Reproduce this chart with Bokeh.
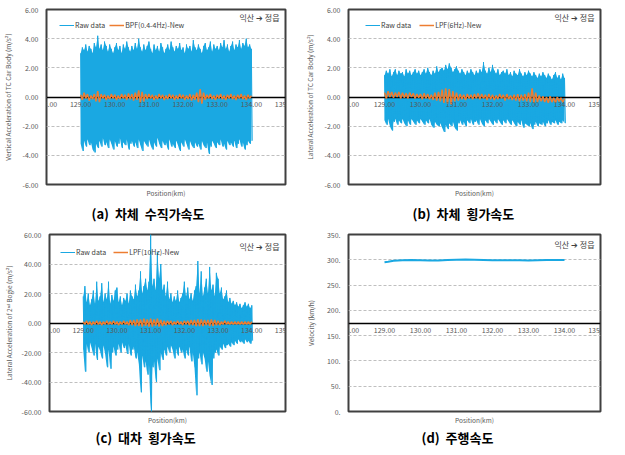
import numpy as np
from bokeh.plotting import figure
from bokeh.layouts import row, column
from bokeh.models import (Range1d, FixedTicker, NumeralTickFormatter, PrintfTickFormatter,
                          Legend, LegendItem, Title)
from bokeh.core.properties import value
from bokeh.embed import file_html
from bokeh.resources import INLINE

FONT = "Noto Sans CJK KR"
BLUE = "#1aa8e2"
ORANGE = "#ed7d31"
NB = "\u00a0"

# ---------------- data ----------------
x_ticks = [128, 129, 130, 131, 132, 133, 134, 135]
positions = np.round(np.arange(129.0, 134.0001, 0.05), 2)   # km, sample positions
half_step = 0.025

direction_tag = "익산 ➔ 정읍"
x_title = "Position(km)"

# (a) vertical acceleration of car body (m/s2): raw peaks, filtered signal
a_raw_upper = [
    3.0, 3.4, 3.2, 3.6, 3.1, 3.5, 3.3, 3.0, 3.7, 3.4,
    4.2, 3.3, 3.6, 3.2, 3.8, 3.5, 3.1, 3.6, 3.3, 3.0,
    3.4, 3.7, 3.2, 3.5, 3.0, 3.6, 3.3, 3.8, 3.4, 3.1,
    3.5, 3.2, 3.7, 3.3, 4.0, 3.4, 3.1, 3.6, 3.2, 3.5,
    3.8, 3.3, 3.0, 3.6, 3.2, 3.5, 3.1, 3.7, 3.4, 3.0,
    3.3, 3.6, 3.2, 3.8, 3.4, 3.1, 3.5, 3.3, 3.7, 3.2,
    3.4, 3.0, 3.6, 3.3, 3.5, 3.1, 3.9, 3.4, 3.2, 3.6,
    3.3, 3.0, 3.5, 3.7, 3.2, 3.4, 3.8, 3.1, 3.6, 3.3,
    3.5, 3.2, 3.7, 3.4, 3.9, 3.3, 3.6, 3.1, 3.5, 3.8,
    3.2, 3.6, 3.4, 3.9, 3.3, 3.7, 3.5, 4.0, 3.4, 3.6,
    3.3]
a_raw_lower = [
    -3.2, -3.7, -3.0, -3.4, -2.9, -3.3, -3.1, -3.6, -3.8, -3.2,
    -3.5, -3.0, -3.4, -2.8, -3.3, -3.1, -3.5, -2.9, -3.2, -3.6,
    -3.0, -3.4, -3.2, -2.8, -3.5, -3.1, -3.3, -2.9, -3.6, -3.2,
    -3.0, -3.4, -3.1, -3.5, -2.9, -3.3, -3.7, -3.0, -3.2, -3.4,
    -2.9, -3.3, -3.6, -3.1, -3.4, -2.8, -3.2, -3.5, -3.0, -3.3,
    -3.1, -3.6, -2.9, -3.4, -3.2, -3.5, -3.0, -3.3, -3.7, -3.1,
    -3.4, -2.9, -3.2, -3.6, -3.0, -3.3, -3.5, -3.1, -3.4, -3.2,
    -3.6, -3.0, -3.3, -3.5, -3.1, -3.9, -3.4, -3.0, -3.2, -3.5,
    -3.1, -3.3, -2.9, -3.4, -3.2, -3.6, -3.0, -3.3, -3.1, -3.4,
    -3.0, -3.5, -3.2, -2.9, -3.4, -3.1, -3.6, -3.3, -3.0, -3.2,
    -3.0]
a_filtered = [
    0.15, -0.2, 0.3, -0.1, 0.2, -0.25, 0.1, -0.15, 0.2, -0.3,
    0.4, -0.35, 0.2, -0.1, 0.15, -0.2, 0.1, -0.15, 0.2, -0.1,
    0.15, -0.2, 0.1, -0.15, 0.2, -0.1, 0.15, -0.2, 0.25, -0.15,
    0.2, -0.25, 0.3, -0.2, 0.45, -0.4, 0.35, -0.3, 0.2, -0.15,
    0.2, -0.1, 0.15, -0.2, 0.1, -0.15, 0.2, -0.1, 0.15, -0.2,
    0.1, -0.15, 0.2, -0.1, 0.15, -0.2, 0.1, -0.15, 0.2, -0.1,
    0.15, -0.2, 0.1, -0.15, 0.2, -0.25, 0.15, -0.2, 0.3, -0.35,
    0.55, -0.45, 0.3, -0.2, 0.15, -0.1, 0.2, -0.15, 0.1, -0.2,
    0.15, -0.1, 0.2, -0.15, 0.1, -0.2, 0.15, -0.1, 0.2, -0.15,
    0.1, -0.2, 0.15, -0.1, 0.2, -0.15, 0.1, -0.2, 0.15, -0.1,
    0.1]

# (b) lateral acceleration of car body (m/s2)
b_raw_upper = [
    1.5, 1.8, 1.6, 1.9, 1.4, 1.7, 1.9, 1.5, 1.8, 1.6,
    1.7, 1.4, 1.9, 1.6, 1.8, 1.5, 1.7, 1.9, 1.6, 1.8,
    1.5, 1.7, 1.9, 1.6, 2.0, 1.7, 1.5, 1.8, 1.6, 2.1,
    1.7, 1.9, 2.0, 1.8, 2.2, 1.9, 2.3, 2.0, 1.7, 1.9,
    2.1, 1.8, 1.6, 1.9, 1.7, 1.5, 1.8, 1.6, 1.9, 1.7,
    1.5, 1.8, 1.6, 1.9, 1.7, 2.4, 1.8, 1.6, 2.0, 1.7,
    2.2, 1.8, 1.6, 1.9, 1.5, 1.7, 1.8, 1.6, 1.9, 1.5,
    1.7, 1.4, 1.8, 1.6, 1.5, 1.9, 1.6, 1.4, 1.7, 1.5,
    1.8, 1.6, 1.4, 1.7, 1.5, 1.3, 1.6, 1.4, 1.7, 1.5,
    1.3, 1.6, 1.4, 1.2, 1.5, 1.7, 1.3, 1.5, 1.2, 1.6,
    1.3]
b_raw_lower = [
    -1.6, -1.9, -1.5, -2.0, -2.3, -1.7, -1.5, -1.9, -1.6, -1.8,
    -1.5, -1.8, -2.0, -1.6, -1.9, -1.5, -1.7, -1.9, -1.6, -1.8,
    -1.5, -1.7, -1.9, -1.6, -1.8, -1.5, -1.9, -2.1, -1.7, -1.9,
    -2.0, -1.8, -2.1, -2.4, -1.9, -2.2, -1.8, -2.0, -1.7, -2.1,
    -2.3, -1.8, -1.6, -1.9, -1.7, -2.0, -1.6, -1.8, -1.5, -1.9,
    -1.7, -1.6, -1.9, -1.5, -1.8, -2.0, -1.6, -1.8, -1.5, -1.7,
    -1.9, -1.6, -1.8, -1.5, -1.7, -1.9, -1.6, -1.8, -1.5, -1.7,
    -1.9, -1.6, -1.8, -2.0, -1.7, -1.9, -1.6, -2.1, -1.8, -1.9,
    -2.0, -1.8, -2.2, -1.9, -1.7, -2.0, -1.8, -1.9, -1.7, -2.0,
    -1.8, -1.6, -1.9, -1.7, -1.8, -1.6, -1.9, -1.7, -1.8, -1.6,
    -1.8]
b_filtered = [
    0.3, -0.1, 0.4, 0.0, 0.35, -0.05, 0.3, 0.0, 0.35, -0.1,
    0.3, -0.05, 0.25, -0.1, 0.3, 0.0, 0.25, -0.1, 0.2, -0.05,
    0.2, -0.15, 0.25, -0.1, 0.2, -0.15, 0.15, -0.2, 0.3, -0.25,
    0.35, -0.3, 0.5, -0.4, 0.6, -0.45, 0.55, -0.5, 0.4, -0.3,
    0.3, -0.25, 0.2, -0.15, 0.15, -0.2, 0.2, -0.1, 0.15, -0.15,
    0.2, -0.1, 0.25, -0.15, 0.2, -0.1, 0.15, -0.2, 0.2, -0.15,
    0.15, -0.2, 0.1, -0.15, 0.2, -0.1, 0.15, -0.25, 0.2, -0.15,
    0.1, -0.2, 0.15, -0.25, 0.2, -0.3, 0.15, -0.25, 0.2, -0.3,
    0.3, -0.35, 0.6, -0.4, 0.3, -0.35, 0.1, -0.3, 0.05, -0.35,
    0.0, -0.4, 0.05, -0.35, -0.05, -0.4, 0.0, -0.3, -0.05, -0.35,
    -0.1]

# (c) lateral acceleration of 2nd bogie (m/s2)
c_raw_upper = [
    18, 25, 14, 20, 12, 16, 22, 13, 28, 15,
    18, 27, 14, 20, 16, 28, 13, 19, 15, 22,
    24, 14, 18, 12, 17, 15, 20, 13, 22, 18,
    16, 26, 18, 22, 35, 20, 25, 30, 22, 28,
    60, 25, 30, 22, 48, 30, 40, 22, 26, 18,
    28, 16, 20, 14, 18, 15, 22, 14, 17, 20,
    28, 18, 24, 16, 20, 15, 22, 25, 42, 20,
    35, 18, 24, 30, 20, 38, 22, 26, 18, 34,
    30, 20, 24, 16, 18, 22, 14, 17, 13, 15,
    12, 14, 11, 13, 10, 12, 14, 11, 13, 10,
    12]
c_raw_lower = [
    -18, -33, -14, -20, -13, -17, -22, -14, -25, -16,
    -19, -24, -15, -21, -30, -18, -31, -20, -16, -22,
    -18, -14, -20, -13, -17, -15, -21, -14, -22, -18,
    -16, -24, -20, -28, -47, -22, -30, -26, -35, -28,
    -60, -30, -26, -40, -24, -32, -20, -25, -18, -22,
    -16, -20, -15, -18, -24, -17, -22, -16, -20, -18,
    -24, -18, -22, -16, -26, -20, -30, -49, -24, -20,
    -28, -20, -24, -33, -26, -36, -42, -24, -20, -18,
    -22, -16, -18, -14, -17, -15, -14, -16, -13, -15,
    -12, -14, -11, -13, -12, -14, -11, -13, -12, -14,
    -12]
c_filtered = [
    1, -1, 1.5, -1, 1, -1.5, 1, -1, 1.5, -1,
    1, -1.5, 1, -1, 1.5, -1, 1, -1, 1.5, -1,
    1, -1.5, 1, -1, 1.5, -1, 1, -1.5, 2, -1.5,
    2, -2, 2.5, -2, 2.5, -2.5, 3, -2, 2.5, -2.5,
    3, -2.5, 2.5, -2, 3, -2.5, 2, -2, 1.5, -1.5,
    1.5, -1, 1.5, -1.5, 1, -1, 1.5, -1, 1, -1.5,
    1.5, -1, 1.5, -1.5, 2, -1.5, 2, -2, 2.5, -2,
    2.5, -2, 2, -1.5, 2, -2, 2.5, -2, 2, -1.5,
    1.5, -1.5, 1, -1, 1.5, -1, 1, -1, 1, -1,
    1, -1, 1, -1, 1, -1, 1, -1, 1, -1,
    1]

# (d) running speed (km/h)
speed_km = [129.0, 129.1, 129.25, 129.5, 129.75, 130.0, 130.25, 130.5, 130.75, 131.0, 131.25,
            131.5, 131.75, 132.0, 132.25, 132.5, 132.75, 133.0, 133.25, 133.5, 133.75, 134.0]
speed_kmh = [295, 296, 298, 299, 299.5, 299, 298.5, 298.5, 299.5, 300, 300.5,
             300, 299.5, 299, 299, 299, 299, 298.5, 299, 299.5, 299.5, 299.5]


def zigzag(xs, up, lo):
    zx, zy = [], []
    for xi, u, l in zip(xs, up, lo):
        zx += [xi, xi + half_step]
        zy += [u, l]
    return zx, zy


def make_panel(width, height, bl, br, bt, bb, yr, yticks, yfmt, ylabel, ylab_standoff,
               zero, caption, cap_offset, cap_standoff, tag_dy, raw=None, filt=None,
               filt_label=None, leg_loc=(13, 149), leg_spacing=4, speed=None):
    p = figure(width=width, height=height, x_range=Range1d(128, 135), y_range=Range1d(*yr),
               output_backend="svg", toolbar_location=None,
               min_border_left=bl, min_border_right=br, min_border_top=bt, min_border_bottom=bb)
    p.background_fill_color = "white"
    p.border_fill_color = "white"
    p.outline_line_color = "#404040"
    p.outline_line_width = 2

    # y axis
    p.yaxis.ticker = FixedTicker(ticks=yticks)
    p.yaxis.formatter = yfmt
    p.yaxis.axis_label = ylabel
    p.yaxis.axis_label_text_font = FONT
    p.yaxis.axis_label_text_font_size = "6.5px"
    p.yaxis.axis_label_text_font_style = "normal"
    p.yaxis.axis_label_text_color = "#595959"
    p.yaxis.axis_label_standoff = ylab_standoff
    p.yaxis.major_label_text_font = FONT
    p.yaxis.major_label_text_font_size = "7px"
    p.yaxis.major_label_text_color = "#595959"
    p.yaxis.major_label_standoff = 2
    p.yaxis.major_tick_line_color = None
    p.yaxis.minor_tick_line_color = None
    p.yaxis.axis_line_color = None

    # x axis crossing at zero (line drawn as a glyph below the filtered trace)
    p.xaxis.fixed_location = zero
    p.xaxis.ticker = FixedTicker(ticks=x_ticks)
    p.xaxis.formatter = NumeralTickFormatter(format="0.00")
    p.xaxis.axis_line_color = None
    p.xaxis.major_tick_line_color = None
    p.xaxis.minor_tick_line_color = None
    p.xaxis.major_tick_out = 0
    p.xaxis.major_tick_in = 0
    p.xaxis.major_label_standoff = 4
    p.xaxis.major_label_text_font = FONT
    p.xaxis.major_label_text_font_size = "7px"
    p.xaxis.major_label_text_color = "#595959"

    p.xgrid.visible = False
    p.ygrid.grid_line_color = "#bfbfbf"
    p.ygrid.grid_line_dash = "3 2"

    if raw is not None:
        p.varea(x=positions, y1=raw[1], y2=raw[0], fill_color=BLUE, fill_alpha=1.0)
        zx, zy = zigzag(positions, raw[0], raw[1])
        r1 = p.line(zx, zy, color=BLUE, line_width=1)
        p.hspan(y=[zero], line_color="black", line_width=1.5)
        r2 = p.line(positions, filt, color=ORANGE, line_width=1.5)
        legend = Legend(items=[LegendItem(label="Raw data", renderers=[r1]),
                               LegendItem(label=filt_label, renderers=[r2])],
                        orientation="horizontal", location=leg_loc,
                        margin=0, padding=0, spacing=leg_spacing,
                        glyph_width=15, glyph_height=8, label_height=20, label_standoff=1,
                        label_text_font=FONT, label_text_font_size="7px",
                        label_text_baseline="middle", label_text_color="#404040",
                        background_fill_alpha=0, border_line_color=None)
        p.add_layout(legend)
    if speed is not None:
        p.hspan(y=[zero], line_color="black", line_width=1.5)
        p.line(speed[0], speed[1], color=BLUE, line_width=2)

    p.text(x=[135], y=[yr[1]], text=[direction_tag], text_align="right", text_baseline="middle",
           x_offset=-6, y_offset=tag_dy, text_font=value(FONT), text_font_size="8px",
           text_color="#404040")

    p.add_layout(Title(text=x_title, align="center", text_font=FONT,
                       text_font_size="6.5px", text_font_style="normal",
                       text_color="#595959", standoff=2), "below")
    p.add_layout(Title(text=caption, align="left", offset=cap_offset, text_font=FONT,
                       text_font_size="13px", text_font_style="bold",
                       text_color="black", standoff=cap_standoff), "below")
    return p


pa = make_panel(302, 229, 31, 17, 9, 45, (-6, 6), [-6, -4, -2, 0, 2, 4, 6],
                NumeralTickFormatter(format="0.00"),
                "Vertical Acceleration of TC Car Body (m/s²)", 6, 0,
                f"(a){NB}{NB}차체{NB}{NB}수직가속도", 45, 6, 8,
                raw=(a_raw_upper, a_raw_lower), filt=a_filtered,
                filt_label="BPF(0.4-4Hz)-New", leg_loc=(13, 149), leg_spacing=4)
pb = make_panel(307, 229, 45, 9, 9, 45, (-6, 6), [-6, -4, -2, 0, 2, 4, 6],
                NumeralTickFormatter(format="0.00"),
                "Lateral Acceleration of TC Car Body (m/s²)", 6, 0,
                f"(b){NB}{NB}차체{NB}{NB}횡가속도", 64, 6, 8,
                raw=(b_raw_upper, b_raw_lower), filt=b_filtered,
                filt_label="LPF(6Hz)-New", leg_loc=(17, 149), leg_spacing=8)
pc = make_panel(302, 217, 36, 17, 5, 35, (-60, 60), [-60, -40, -20, 0, 20, 40, 60],
                NumeralTickFormatter(format="0.00"),
                "Lateral Acceleration of 2ⁿᵈ Bogie (m/s²)", 5, 0,
                f"(c){NB}{NB}대차{NB}{NB}횡가속도", 46, 0, 12,
                raw=(c_raw_upper, c_raw_lower), filt=c_filtered,
                filt_label="LPF(10Hz)-New", leg_loc=(11, 149), leg_spacing=7)
pd = make_panel(307, 217, 45, 9, 5, 35, (0, 350), [0, 50, 100, 150, 200, 250, 300, 350],
                PrintfTickFormatter(format="%d."),
                "Velocity (km/h)", 8, 175,
                f"(d){NB}{NB}주행속도", 73, 0, 10,
                speed=(speed_km, speed_kmh))

layout = column(row(pa, pb), row(pc, pd))
open("out.html", "w").write(file_html(layout, INLINE))
